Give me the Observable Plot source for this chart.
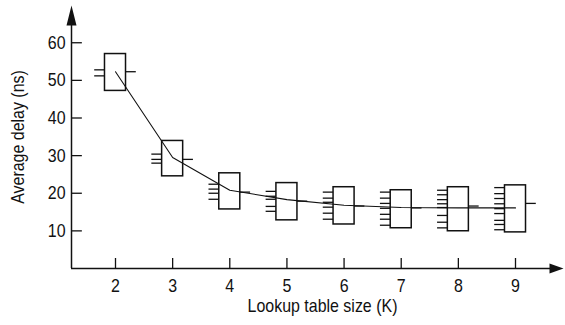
<!DOCTYPE html>
<html><head><meta charset="utf-8">
<script src="https://cdn.jsdelivr.net/npm/d3@7"></script>
<script src="https://cdn.jsdelivr.net/npm/@observablehq/plot@0.6"></script>
<style>
body{margin:0;background:#fff}
#chart svg{display:block}
</style></head><body><div id="chart"></div>
<script>
// Lookup table sizes (K)
const sizes = [2, 3, 4, 5, 6, 7, 8, 9];
// box ranges (ns)
const boxLow  = [47.2, 24.5, 15.7, 12.8, 11.7, 10.7, 9.9, 9.6];
const boxHigh = [57.0, 33.9, 25.3, 22.7, 21.6, 20.8, 21.6, 22.1];
// dash drawn on the right of each box (ns)
const meanDash = [52.3, 29.0, 20.3, 17.9, 16.6, 16.1, 16.6, 17.3];
// average-delay curve (ns)
const trendLine = [52.3, 29.5, 20.8, 18.3, 16.8, 16.2, 16.1, 16.1];
// individual dashes to the left of each box (ns)
const samples = [
  [52.8, 51.2],
  [30.4, 29.0, 28.0],
  [22.4, 21.1, 20.0, 18.4],
  [20.5, 19.2, 18.4, 16.5, 15.2],
  [20.3, 18.7, 17.6, 16.3, 14.7, 13.1],
  [20.3, 18.7, 17.3, 16.0, 14.4, 13.1, 11.5],
  [20.8, 19.6, 18.3, 17.2, 16.2, 14.1, 12.3, 10.8],
  [21.5, 19.9, 18.6, 17.2, 15.9, 14.6, 12.8, 11.7, 10.3]
];
const yTicks = [10, 20, 30, 40, 50, 60];
const xTicks = [2, 3, 4, 5, 6, 7, 8, 9];
const xLabel = "Lookup table size (K)";
const yLabel = "Average delay (ns)";

const xMin = 1.23, xMax = 9.84, yMin = 0, yMax = 69.9;
const boxHalf = 0.184;   // half box width in K units
const dashLen = 0.18;    // dash length in K units
const xTickLen = 2.66;   // x tick length in ns units
const yTickLen = 0.19;   // y tick length in K units

const boxes = sizes.map((k, i) => ({k, lo: boxLow[i], hi: boxHigh[i], mean: meanDash[i], trend: trendLine[i]}));
const dashes = sizes.flatMap((k, i) => samples[i].map(v => ({k, v})));

const upArrow = {draw(ctx) { ctx.moveTo(0, 0); ctx.lineTo(5, 20); ctx.lineTo(-5, 20); ctx.closePath(); }};
const rightArrow = {draw(ctx) { ctx.moveTo(0, 0); ctx.lineTo(-14, 5); ctx.lineTo(-14, -5); ctx.closePath(); }};

const font = "'Liberation Sans', Arial, sans-serif";

const chart = Plot.plot({
  width: 565,
  height: 325,
  marginLeft: 71,
  marginRight: 2,
  marginTop: 5,
  marginBottom: 57,
  style: {fontFamily: font, fontSize: "19px", color: "#111", background: "#fff"},
  x: {domain: [xMin, xMax], ticks: xTicks, tickSize: 0, tickPadding: 10, label: null, tickFormat: d => String(d)},
  y: {domain: [yMin, yMax], ticks: yTicks, tickSize: 0, tickPadding: 6, label: null},
  marks: [
    // axes
    Plot.ruleX([xMin], {y1: yMin, y2: yMax - 3, stroke: "#111", strokeWidth: 1.5}),
    Plot.ruleY([yMin], {x1: xMin, x2: xMax - 0.2, stroke: "#111", strokeWidth: 1.5}),
    Plot.dot([{x: xMin, y: yMax}], {x: "x", y: "y", symbol: upArrow, fill: "#111", stroke: null}),
    Plot.dot([{x: xMax, y: yMin}], {x: "x", y: "y", symbol: rightArrow, fill: "#111", stroke: null}),
    Plot.ruleY(yTicks, {y: d => d, x1: xMin, x2: xMin + yTickLen, stroke: "#111", strokeWidth: 1.3}),
    Plot.ruleX(xTicks, {x: d => d, y1: yMin, y2: yMin + xTickLen, stroke: "#111", strokeWidth: 1.3}),
    // boxes
    Plot.rect(boxes, {x1: d => d.k - boxHalf, x2: d => d.k + boxHalf, y1: "lo", y2: "hi", fill: "white", stroke: "#111", strokeWidth: 1.5}),
    // left dashes
    Plot.ruleY(dashes, {y: "v", x1: d => d.k - boxHalf - dashLen, x2: d => d.k - boxHalf, stroke: "#111", strokeWidth: 1.3}),
    // right dashes
    Plot.ruleY(boxes, {y: "mean", x1: d => d.k + boxHalf, x2: d => d.k + boxHalf + dashLen, stroke: "#111", strokeWidth: 1.3}),
    // curve
    Plot.line(boxes, {x: "k", y: "trend", stroke: "#111", strokeWidth: 1.1}),
    // axis titles
    Plot.text([xLabel], {frameAnchor: "bottom", lineAnchor: "middle", dx: 5, dy: 37, fill: "#111"}),
    Plot.text([yLabel], {frameAnchor: "left", textAnchor: "middle", lineAnchor: "middle", dx: -54, rotate: -90, fill: "#111"})
  ]
});
document.getElementById("chart").appendChild(chart);
// narrow the type, like the condensed face of the original
chart.querySelectorAll("text").forEach(t => {
  const w = t.getComputedTextLength();
  if (w > 0) {
    t.setAttribute("textLength", (w * 0.84).toFixed(2));
    t.setAttribute("lengthAdjust", "spacingAndGlyphs");
  }
});
</script>
</body></html>
